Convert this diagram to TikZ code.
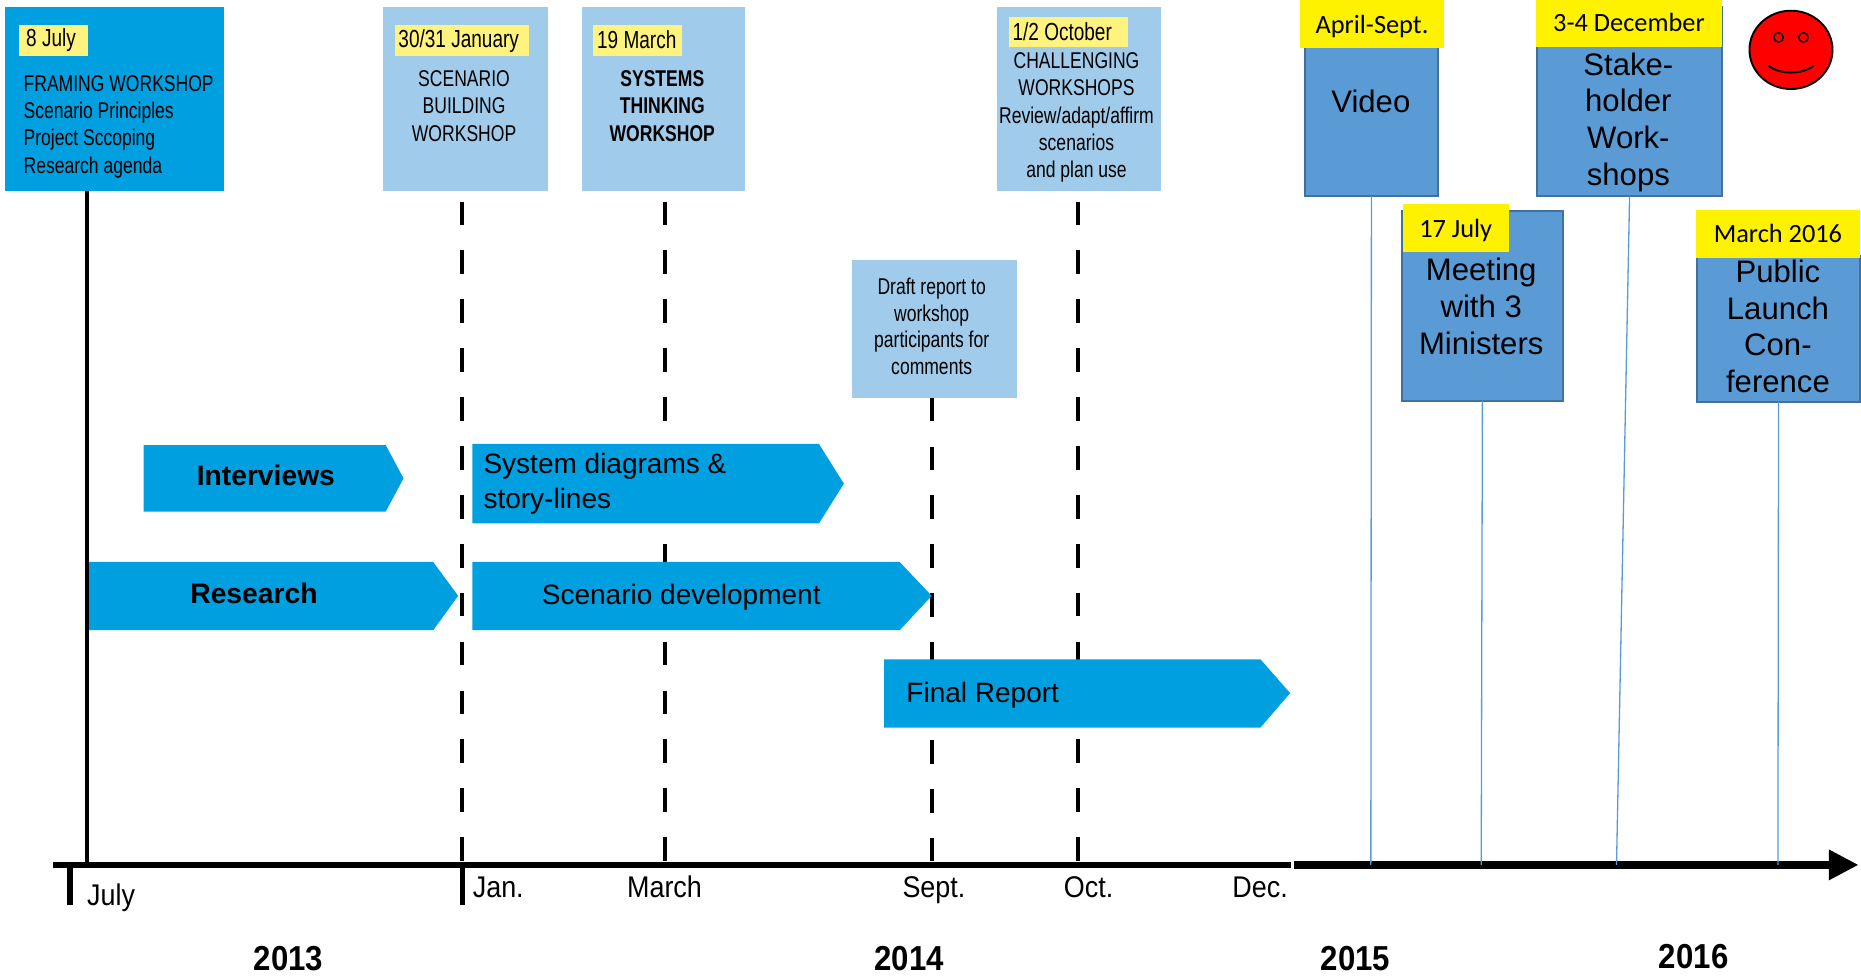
\documentclass[tikz,border=0pt]{standalone}
\usepackage{fontspec}
\setmainfont{Liberation Sans}
\newfontfamily\narrowf[FakeStretch=0.77]{Liberation Sans}
\newfontfamily\widerf[FakeStretch=0.9]{Liberation Sans}
\newfontfamily\tagf{Carlito}
\usetikzlibrary{arrows.meta,shapes.geometric}
\definecolor{brightblue}{HTML}{009FE0}
\definecolor{paleblue}{HTML}{A0CBEB}
\definecolor{paleyellow}{HTML}{FFF380}
\definecolor{midblue}{HTML}{5B9BD5}
\definecolor{edgeblue}{HTML}{41719C}
\tikzset{
  x=0.5pt,y=-0.5pt,
  panel/.style={anchor=north west,inner sep=0pt,outer sep=0pt,draw=none},
  darkpanel/.style={panel,fill=brightblue},
  lightpanel/.style={panel,fill=paleblue},
  midpanel/.style={panel,fill=midblue,draw=edgeblue,line width=0.8pt},
  softtag/.style={panel,fill=paleyellow},
  hardtag/.style={panel,fill=yellow},
  smalltxt/.style={inner sep=0pt,align=center,font=\narrowf\fontsize{9.6}{11.5}\selectfont},
  softtxt/.style={inner sep=0pt,font=\narrowf\fontsize{10.4}{12}\selectfont},
  leftsmall/.style={smalltxt,align=left,anchor=north west},
  tagtxt/.style={inner sep=0pt,font=\tagf\fontsize{11.1}{12}\selectfont},
  bigtxt/.style={inner sep=0pt,align=center,font=\fontsize{13.1}{15.5}\selectfont},
  arrowtxt/.style={inner sep=0pt,align=left,font=\fontsize{11.8}{14.8}\selectfont},
  boldarrowtxt/.style={inner sep=0pt,font=\bfseries\fontsize{11.9}{14.8}\selectfont},
  axistxt/.style={inner sep=0pt,anchor=base west,font=\widerf\fontsize{12.6}{14}\selectfont},
  yeartxt/.style={inner sep=0pt,anchor=base,font=\widerf\bfseries\fontsize{14.6}{16}\selectfont},
  solidline/.style={black,line width=1.7pt},
  dashline/.style={black,line width=1.7pt,dash pattern=on 10pt off 10.6pt,dash phase=16pt},
  thinline/.style={midblue,line width=0.55pt},
  axisline/.style={black,line width=2.6pt},
  tickline/.style={black,line width=2.3pt},
}
\begin{document}
\begin{tikzpicture}
\useasboundingbox (0,0) rectangle (1568,821.5);
% axis points
\coordinate (axL) at (45,728.7);
\coordinate (axM) at (1088,728.7);
\coordinate (axN) at (1090,728.7);
\coordinate (axR) at (1566,728.7);
\coordinate (tJul) at (73.5,728.7);
\coordinate (tTick) at (59,728.7);
\coordinate (tTickE) at (59,762.5);
\coordinate (tJan) at (389.5,728.7);
\coordinate (tJanE) at (389.5,762.5);
\coordinate (tMar) at (560.5,728.7);
\coordinate (tSep) at (785.5,728.7);
\coordinate (tOct) at (908.5,728.7);
\coordinate (tVid) at (1155,728.7);
\coordinate (tMin) at (1248,728.7);
\coordinate (tSta) at (1362,728.7);
\coordinate (tPub) at (1498,728.7);
% panels
\node[darkpanel,minimum width=92.5pt,minimum height=77.3pt] (frame) at (4,6) {};
\node[lightpanel,minimum width=69.5pt,minimum height=77.3pt] (build) at (322.5,6) {};
\node[lightpanel,minimum width=69pt,minimum height=77.3pt] (systems) at (490,6) {};
\node[lightpanel,minimum width=69pt,minimum height=77.3pt] (chall) at (840,6) {};
\node[lightpanel,minimum width=69.5pt,minimum height=58pt] (draft) at (718,219) {};
% connectors left part
\draw[solidline] (frame.south -| tJul) -- (tJul);
\draw[dashline] (build.south -| tJan) -- (tJan);
\draw[dashline] (systems.south -| tMar) -- (tMar);
\draw[dashline] (chall.south -| tOct) -- (tOct);
\draw[dashline,dash phase=20.6pt] (draft.south -| tSep) -- (tSep);
% pentagons
\fill[brightblue] (121,375) -- (325,375) -- (340,403) -- (325,431) -- (121,431) -- cycle;
\fill[brightblue] (398,374) -- (690,374) -- (711,407.5) -- (690,441) -- (398,441) -- cycle;
\fill[brightblue] (75,473.5) -- (365,473.5) -- (386,502) -- (365,531) -- (75,531) -- cycle;
\fill[brightblue] (398,473.5) -- (758,473.5) -- (785,502) -- (758,531) -- (398,531) -- cycle;
\fill[brightblue] (745,555.5) -- (1062,555.5) -- (1087,584) -- (1062,613) -- (745,613) -- cycle;
\node[boldarrowtxt] (interviews) at (224,400.5) {Interviews};
\node[arrowtxt,anchor=west] (sysd) at (407,407.5) {System diagrams \&\\story-lines};
\node[boldarrowtxt] (research) at (214,500) {Research};
\node[arrowtxt] (scen) at (574,503) {Scenario development};
\node[arrowtxt] (final) at (828,586) {Final Report};
% axes
\draw[axisline] (axL) -- (axM);
\draw[black,line width=3.5pt,-{Triangle[length=12.5pt,width=12pt]}] (axN) -- (axR);
\draw[tickline] (tTick) -- (tTickE);
\draw[tickline] (tJan) -- (tJanE);
% right-hand boxes
\node[midpanel,minimum width=56pt,minimum height=63pt] (video) at (1099.5,39.5) {};
\node[midpanel,minimum width=78pt,minimum height=80pt] (stake) at (1295,5.5) {};
\node[midpanel,minimum width=68pt,minimum height=80pt] (minis) at (1181,177.5) {};
\node[midpanel,minimum width=68.5pt,minimum height=61.5pt] (launch) at (1430,215.5) {};
\draw[thinline] (video.south) -- (tVid);
\draw[thinline] (minis.south) -- (tMin);
\draw[thinline] (stake.south) -- (tSta);
\draw[thinline] (launch.south) -- (tPub);
% tags
\node[softtag,minimum width=29pt,minimum height=13pt] (tagA) at (16,21) {};
\node[softtag,minimum width=56.5pt,minimum height=13pt] (tagB) at (333,21) {};
\node[softtag,minimum width=37.5pt,minimum height=13pt] (tagC) at (500,21) {};
\node[softtag,minimum width=50pt,minimum height=13pt] (tagD) at (850,14) {};
\node[hardtag,minimum width=61pt,minimum height=20.2pt] (tagE) at (1095,0) {};
\node[hardtag,minimum width=78.5pt,minimum height=19.7pt] (tagF) at (1294,0) {};
\node[hardtag,minimum width=44.5pt,minimum height=20pt] (tagG) at (1182,172) {};
\node[hardtag,minimum width=69pt,minimum height=20pt] (tagH) at (1429,177) {};
% texts
\node[softtxt] (sA) at (43,34) {8 July};
\node[softtxt] (sB) at (386.5,34.5) {30/31 January};
\node[softtxt] (sC) at (536.5,33.5) {19 March};
\node[softtxt] (sD) at (895,26.5) {1/2 October};
\node[tagtxt] (sE) at ([yshift=-1pt]tagE.center) {April-Sept.};
\node[tagtxt] (sF) at ([yshift=0.5pt]tagF.center) {3-4 December};
\node[tagtxt] (sG) at ([yshift=-1pt]tagG.center) {17 July};
\node[tagtxt] (sH) at (tagH.center) {March 2016};
\node[leftsmall] (t1) at (19.5,63) {FRAMING WORKSHOP\\Scenario Principles\\Project Sccoping\\Research agenda};
\node[smalltxt,anchor=north] (t2) at (391,59) {SCENARIO\\BUILDING\\WORKSHOP};
\node[smalltxt,anchor=north,font=\narrowf\bfseries\fontsize{9.6}{11.5}\selectfont] (t3) at (558,59) {SYSTEMS\\THINKING\\WORKSHOP};
\node[smalltxt,anchor=north] (t4) at (907,44) {CHALLENGING\\WORKSHOPS\\Review/adapt/affirm\\scenarios\\and plan use};
\node[smalltxt,anchor=north,font=\narrowf\fontsize{9.6}{11.2}\selectfont] (t5) at (785,234) {Draft report to\\workshop\\participants for\\comments};
\node[bigtxt] (t6) at (1155,85) {Video};
\node[bigtxt] (t7) at (1372,103) {Stake-\\holder\\Work-\\shops};
\node[bigtxt] (t8) at (1248,258) {Meeting\\with 3\\Ministers};
\node[bigtxt] (t9) at (1498,275) {Public\\Launch\\Con-\\ference};
% face
\node[ellipse,draw=black,fill=red,line width=0.8pt,minimum width=35pt,minimum height=33pt,inner sep=0pt] (face) at (1509,42) {};
\draw[black,line width=0.6pt] (1498.5,31.5) circle (4);
\draw[black,line width=0.6pt] (1519.5,31.5) circle (4);
\draw[black,line width=0.8pt] (1490,55.5) .. controls (1500,63) and (1518,63) .. (1528,55.5);
% axis labels
\node[axistxt] (lJul) at (73,763) {July};
\node[axistxt] (lJan) at (398,756) {Jan.};
\node[axistxt] (lMar) at (528,756) {March};
\node[axistxt] (lSep) at (760,756) {Sept.};
\node[axistxt] (lOct) at (896,756) {Oct.};
\node[axistxt] (lDec) at (1038,756) {Dec.};
\node[yeartxt] (y13) at (243,817.5) {2013};
\node[yeartxt] (y14) at (766,817.5) {2014};
\node[yeartxt] (y15) at (1142,817.5) {2015};
\node[yeartxt] (y16) at (1427,816) {2016};
\end{tikzpicture}
\end{document}
